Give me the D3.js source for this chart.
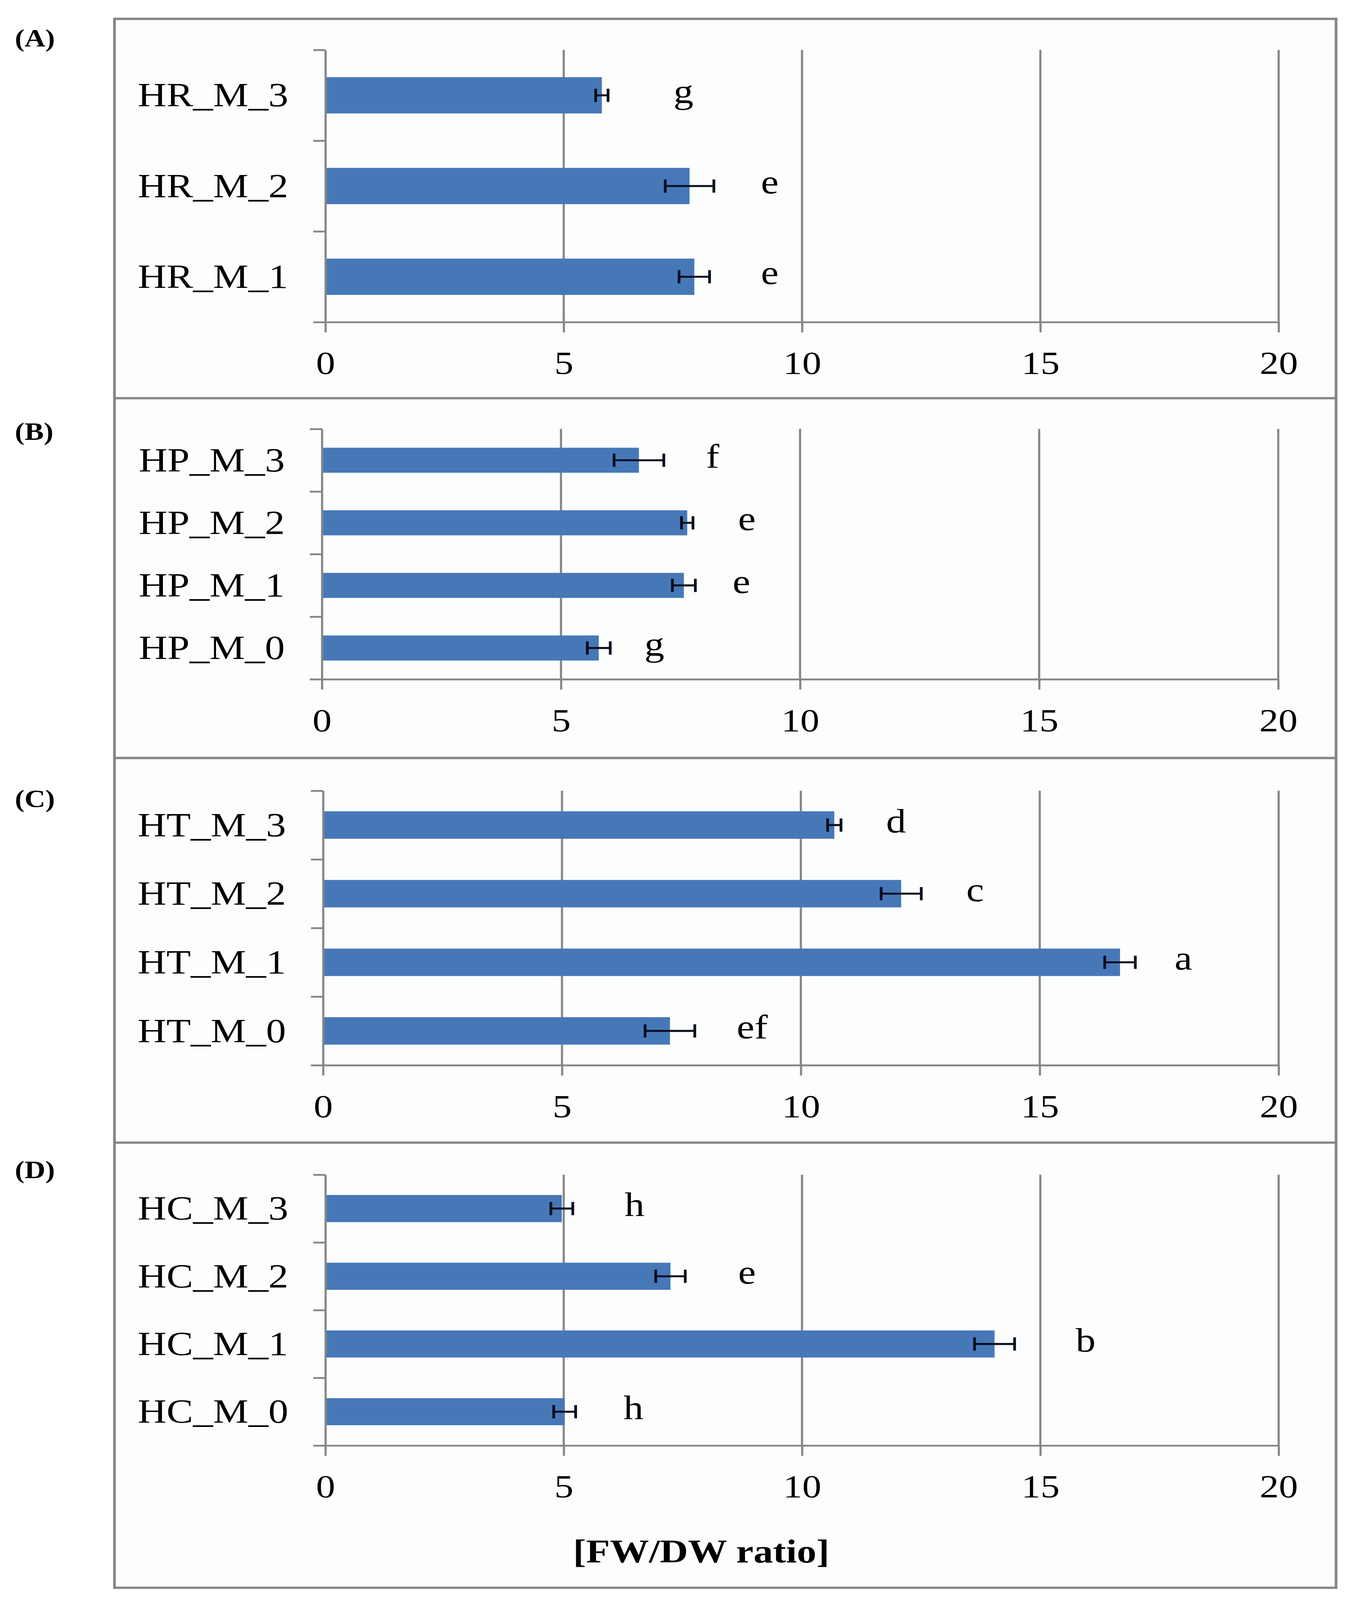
<!DOCTYPE html>
<html>
<head>
<meta charset="utf-8">
<script src="https://cdn.jsdelivr.net/npm/d3@7"></script>
<style>
  html, body { margin: 0; padding: 0; background: #ffffff; overflow: hidden; }
  svg { display: block; }
</style>
</head>
<body>
<div id="chart"></div>
<script>
// ---- data ----
const panelLabels = ["(A)", "(B)", "(C)", "(D)"];

const categoriesA = ["HR_M_3", "HR_M_2", "HR_M_1"];
const valuesA = [5.80, 7.64, 7.74];
const errorsA = [0.13, 0.51, 0.32];
const lettersA = ["g", "e", "e"];

const categoriesB = ["HP_M_3", "HP_M_2", "HP_M_1", "HP_M_0"];
const valuesB = [6.63, 7.64, 7.57, 5.79];
const errorsB = [0.52, 0.12, 0.24, 0.24];
const lettersB = ["f", "e", "e", "g"];

const categoriesC = ["HT_M_3", "HT_M_2", "HT_M_1", "HT_M_0"];
const valuesC = [10.70, 12.10, 16.68, 7.26];
const errorsC = [0.14, 0.42, 0.32, 0.52];
const lettersC = ["d", "c", "a", "ef"];

const categoriesD = ["HC_M_3", "HC_M_2", "HC_M_1", "HC_M_0"];
const valuesD = [4.96, 7.24, 14.04, 5.02];
const errorsD = [0.23, 0.31, 0.42, 0.23];
const lettersD = ["h", "e", "b", "h"];

const xTicks = [0, 5, 10, 15, 20];
const xDomain = [0, 20];
const axisTitle = "[FW/DW ratio]";

// ---- layout ----
const W = 3448, H = 4838;
const frame = { left: 293, right: 3420, top: 57, bottom: 4801 };
const separators = [1204, 2292, 3455];
const gray = "#868686";
const barColor = "#4678b8";
const errColor = "#0a0e1e";
const serif = "'Liberation Serif', 'Times New Roman', serif";

// letterGap: px between the error bar end and the centre of the letter
const panels = [
  { label: panelLabels[0], labelY: 116, x0: 833, x1: 3273, top: 151, bottom: 974,
    cats: categoriesA, vals: valuesA, errs: errorsA, letters: lettersA,
    letterGap: [193, 143, 154] },
  { label: panelLabels[1], labelY: 1306, x0: 824, x1: 3272, top: 1297, bottom: 2054,
    cats: categoriesB, vals: valuesB, errs: errorsB, letters: lettersB,
    letterGap: [125, 138, 118, 113] },
  { label: panelLabels[2], labelY: 2416, x0: 827, x1: 3273, top: 2391, bottom: 3221,
    cats: categoriesC, vals: valuesC, errs: errorsC, letters: lettersC,
    letterGap: [141, 138, 123, 147] },
  { label: panelLabels[3], labelY: 3538, x0: 833, x1: 3273, top: 3552, bottom: 4371,
    cats: categoriesD, vals: valuesD, errs: errorsD, letters: lettersD,
    letterGap: [158, 158, 182, 148] }
];

// the page may be given a shorter viewport than the figure; stretch to fit it
const vw = window.innerWidth || W, vh = window.innerHeight || H;

const svg = d3.select("#chart").append("svg")
  .attr("width", vw)
  .attr("height", vh)
  .attr("viewBox", `0 0 ${W} ${H}`)
  .attr("preserveAspectRatio", "none");

svg.append("rect").attr("width", W).attr("height", H).attr("fill", "#ffffff");

// outer frame + panel separators
svg.append("rect")
  .attr("x", frame.left).attr("y", frame.top)
  .attr("width", frame.right - frame.left)
  .attr("height", frame.bottom - frame.top)
  .attr("fill", "#fcfdfd")
  .attr("stroke", gray)
  .attr("stroke-width", 7);

svg.selectAll("line.sep")
  .data(separators)
  .enter().append("line")
  .attr("class", "sep")
  .attr("x1", frame.left).attr("x2", frame.right)
  .attr("y1", d => d).attr("y2", d => d)
  .attr("stroke", gray)
  .attr("stroke-width", 7);

panels.forEach(p => {
  const n = p.cats.length;
  const x = d3.scaleLinear().domain(xDomain).range([p.x0, p.x1]);
  const y = d3.scaleBand().domain(p.cats).range([p.top, p.bottom]).padding(0);
  const yEdge = d3.scaleLinear().domain([0, n]).range([p.top, p.bottom]);
  const barH = y.bandwidth() * 0.4;
  const mid = c => y(c) + y.bandwidth() / 2;

  const g = svg.append("g");

  // panel letter
  svg.append("text")
    .attr("x", 38)
    .attr("y", p.labelY)
    .attr("dy", "0.33em")
    .attr("font-family", serif)
    .attr("font-weight", "bold")
    .attr("font-size", 74)
    .attr("fill", "#000")
    .text(p.label);

  // vertical gridlines
  g.selectAll("line.grid")
    .data(xTicks.filter(t => t > 0))
    .enter().append("line")
    .attr("x1", d => x(d)).attr("x2", d => x(d))
    .attr("y1", p.top).attr("y2", p.bottom)
    .attr("stroke", gray)
    .attr("stroke-width", 5.5);

  const rows = p.cats.map((c, i) => ({
    c, v: p.vals[i], e: p.errs[i], l: p.letters[i], gap: p.letterGap[i]
  }));

  // bars
  g.selectAll("rect.bar")
    .data(rows)
    .enter().append("rect")
    .attr("x", x(0))
    .attr("y", d => mid(d.c) - barH / 2)
    .attr("width", d => x(d.v) - x(0))
    .attr("height", barH)
    .attr("fill", barColor);

  // x axis
  const xAxis = g.append("g")
    .attr("transform", `translate(0,${p.bottom})`)
    .call(d3.axisBottom(x).tickValues(xTicks).tickSize(31).tickSizeOuter(0).tickPadding(56));
  xAxis.select(".domain").attr("stroke", gray).attr("stroke-width", 5.5);
  xAxis.selectAll(".tick line").attr("stroke", gray).attr("stroke-width", 5.5);
  xAxis.selectAll(".tick text")
    .attr("font-family", serif)
    .attr("font-size", 98)
    .attr("fill", "#000");

  // category axis, ticks on band edges
  const yAxis = g.append("g")
    .attr("transform", `translate(${p.x0},0)`)
    .call(d3.axisLeft(yEdge).tickValues(d3.range(n + 1)).tickSize(31).tickSizeOuter(0).tickFormat(""));
  yAxis.select(".domain").attr("stroke", gray).attr("stroke-width", 5.5);
  yAxis.selectAll(".tick line").attr("stroke", gray).attr("stroke-width", 5.5);

  g.selectAll("text.cat")
    .data(rows)
    .enter().append("text")
    .attr("x", p.x0 - 95)
    .attr("y", d => mid(d.c))
    .attr("dy", "0.33em")
    .attr("text-anchor", "end")
    .attr("font-family", serif)
    .attr("font-size", 102)
    .attr("fill", "#000")
    .text(d => d.c);

  // error bars
  const eb = g.selectAll("g.err")
    .data(rows)
    .enter().append("g")
    .attr("transform", d => `translate(0,${mid(d.c)})`);
  eb.append("line")
    .attr("x1", d => x(d.v - d.e)).attr("x2", d => x(d.v + d.e))
    .attr("y1", 0).attr("y2", 0)
    .attr("stroke", errColor).attr("stroke-width", 6);
  eb.selectAll("line.cap")
    .data(d => [d.v - d.e, d.v + d.e])
    .enter().append("line")
    .attr("x1", d => x(d)).attr("x2", d => x(d))
    .attr("y1", -20).attr("y2", 20)
    .attr("stroke", errColor).attr("stroke-width", 7);

  // significance letters
  g.selectAll("text.sig")
    .data(rows)
    .enter().append("text")
    .attr("x", d => x(d.v + d.e) + d.gap)
    .attr("y", d => mid(d.c))
    .attr("dy", "0.22em")
    .attr("text-anchor", "middle")
    .attr("font-family", serif)
    .attr("font-size", 102)
    .attr("fill", "#000")
    .text(d => d.l);
});

// axis title under the last panel
svg.append("text")
  .attr("x", 1795)
  .attr("y", 4725)
  .attr("text-anchor", "middle")
  .attr("font-family", serif)
  .attr("font-weight", "bold")
  .attr("font-size", 100)
  .attr("fill", "#000")
  .text(axisTitle);
</script>
</body>
</html>
